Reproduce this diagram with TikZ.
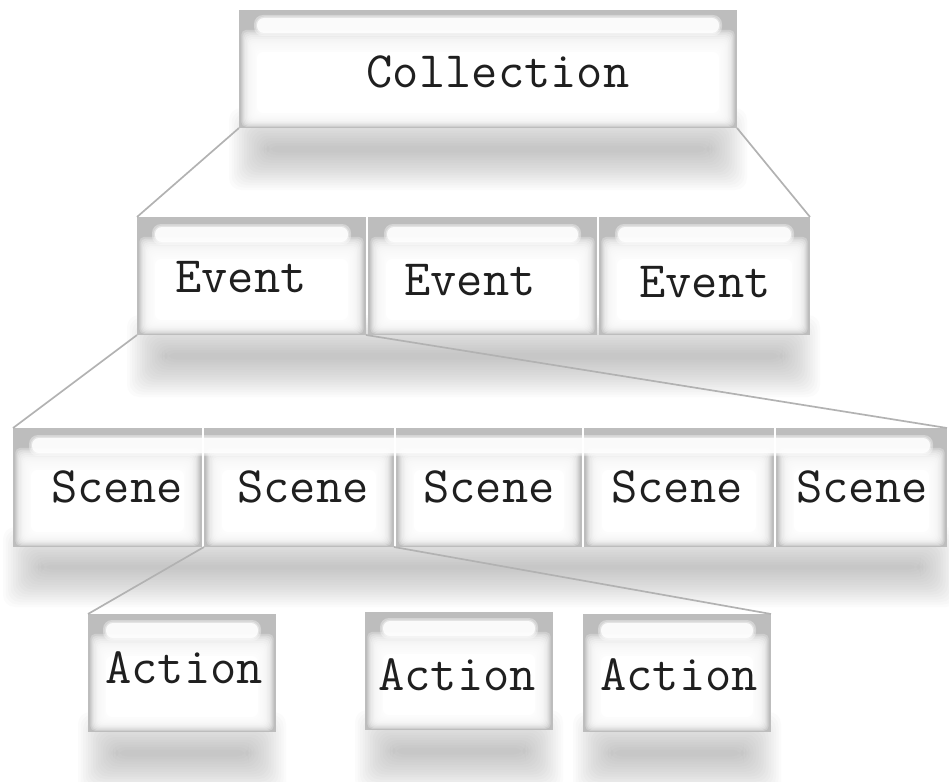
\documentclass[tikz,border=0pt]{standalone}
\usepackage{fontspec}
\tikzset{
  frame/.style={fill=black!26},
  glow/.style={fill=white,opacity=0.27,rounded corners=5pt},
  core/.style={fill=white,rounded corners=6pt},
  shade/.style={fill=black,opacity=0.016,rounded corners=12pt},
  pill/.style={fill=white,opacity=0.85,rounded corners=7pt},
  pillsoft/.style={fill=white,opacity=0.35,rounded corners=9pt},
  link/.style={draw=black!30,line width=1.7pt},
  lbl/.style={font=\ttfamily\fontsize{51}{58}\selectfont,text=black!88,inner sep=0pt,anchor=base},
  boxnode/.style={inner sep=0pt,outer sep=0pt}
}
\newcommand\gshadow[4]{%
  \foreach \k in {0,...,15}{%
    \fill[shade] ({#1+2.5*\k},{#2+2.5*\k}) rectangle ({#3-2.5*\k},{#4-2.5*\k});
  }%
}
\newcommand\gframe[5]{%
  \fill[frame] (#2,#3) rectangle (#4,#5);
  \foreach \i in {1,...,12}{%
    \fill[glow] ({#2+1+1.3*\i},{#3+18+1.8*\i}) rectangle ({#4-1-1.3*\i},{#5-1.1*\i});
  }%
  \fill[core] ({#2+18},{#3+42}) rectangle ({#4-18},{#5-15});
  \node[boxnode,minimum width={(#4-#2)*1pt},minimum height={(#5-#3)*1pt}] (#1) at ({(#2+#4)/2},{(#3+#5)/2}) {};
}
\newcommand\gpill[3]{%
  \fill[pillsoft] ({#1-3},{#3-3}) rectangle ({#2+3},{#3+18});
  \fill[pillsoft] ({#1-1.5},{#3-1.5}) rectangle ({#2+1.5},{#3+16.5});
  \fill[pill] (#1,#3) rectangle (#2,{#3+15});
}
\begin{document}
\begin{tikzpicture}[x=1pt,y=-1pt]
\useasboundingbox (0,0) rectangle (949,781);
% shadows
\gshadow{229}{108}{747}{190}
\gshadow{127}{315}{820}{397}
\gshadow{3}{527}{958}{607}
\gshadow{78}{712}{286}{794}
\gshadow{355}{710}{563}{792}
\gshadow{573}{712}{781}{794}
% collection
\gframe{coll}{239}{10}{737}{128}
\gpill{257}{719}{18}
\node[lbl] (collt) at (498,88) {Collection};
% events
\gframe{ev1}{137}{217}{366}{335}
\gpill{155}{348}{227}
\node[lbl] (ev1t) at (241,292) {Event};
\gframe{ev2}{368}{217}{597}{335}
\gpill{387}{578}{227}
\node[lbl] (ev2t) at (470,295) {Event};
\gframe{ev3}{599}{217}{810}{335}
\gpill{618}{791}{227}
\node[lbl] (ev3t) at (705,297) {Event};
% scenes
\gframe{sc1}{13}{428}{202}{547}
\gframe{sc2}{204}{428}{394}{547}
\gframe{sc3}{396}{428}{582}{547}
\gframe{sc4}{584}{428}{774}{547}
\gframe{sc5}{776}{428}{947}{547}
\gpill{32}{930}{438}
\fill[white] (202,428) rectangle (204,547);
\fill[white] (394,428) rectangle (396,547);
\fill[white] (582,428) rectangle (584,547);
\fill[white] (774,428) rectangle (776,547);
\node[lbl] (sc1t) at (117,502) {Scene};
\node[lbl] (sc2t) at (303,502) {Scene};
\node[lbl] (sc3t) at (489,502) {Scene};
\node[lbl] (sc4t) at (677,502) {Scene};
\node[lbl] (sc5t) at (862,502) {Scene};
% actions
\gframe{ac1}{88}{614}{276}{732}
\gpill{106}{258}{623}
\node[lbl] (ac1t) at (184,683) {Action};
\gframe{ac2}{365}{612}{553}{730}
\gpill{383}{535}{621}
\node[lbl] (ac2t) at (457,690) {Action};
\gframe{ac3}{583}{614}{771}{732}
\gpill{601}{753}{623}
\node[lbl] (ac3t) at (679,690) {Action};
% connectors
\draw[link] (coll.south west) -- (ev1.north west);
\draw[link] (coll.south east) -- (ev3.north east);
\draw[link] (ev1.south west) -- (sc1.north west);
\draw[link] (ev1.south east) -- (sc5.north east);
\draw[link] (sc2.south west) -- (ac1.north west);
\draw[link] (sc2.south east) -- (ac3.north east);
\end{tikzpicture}
\end{document}
